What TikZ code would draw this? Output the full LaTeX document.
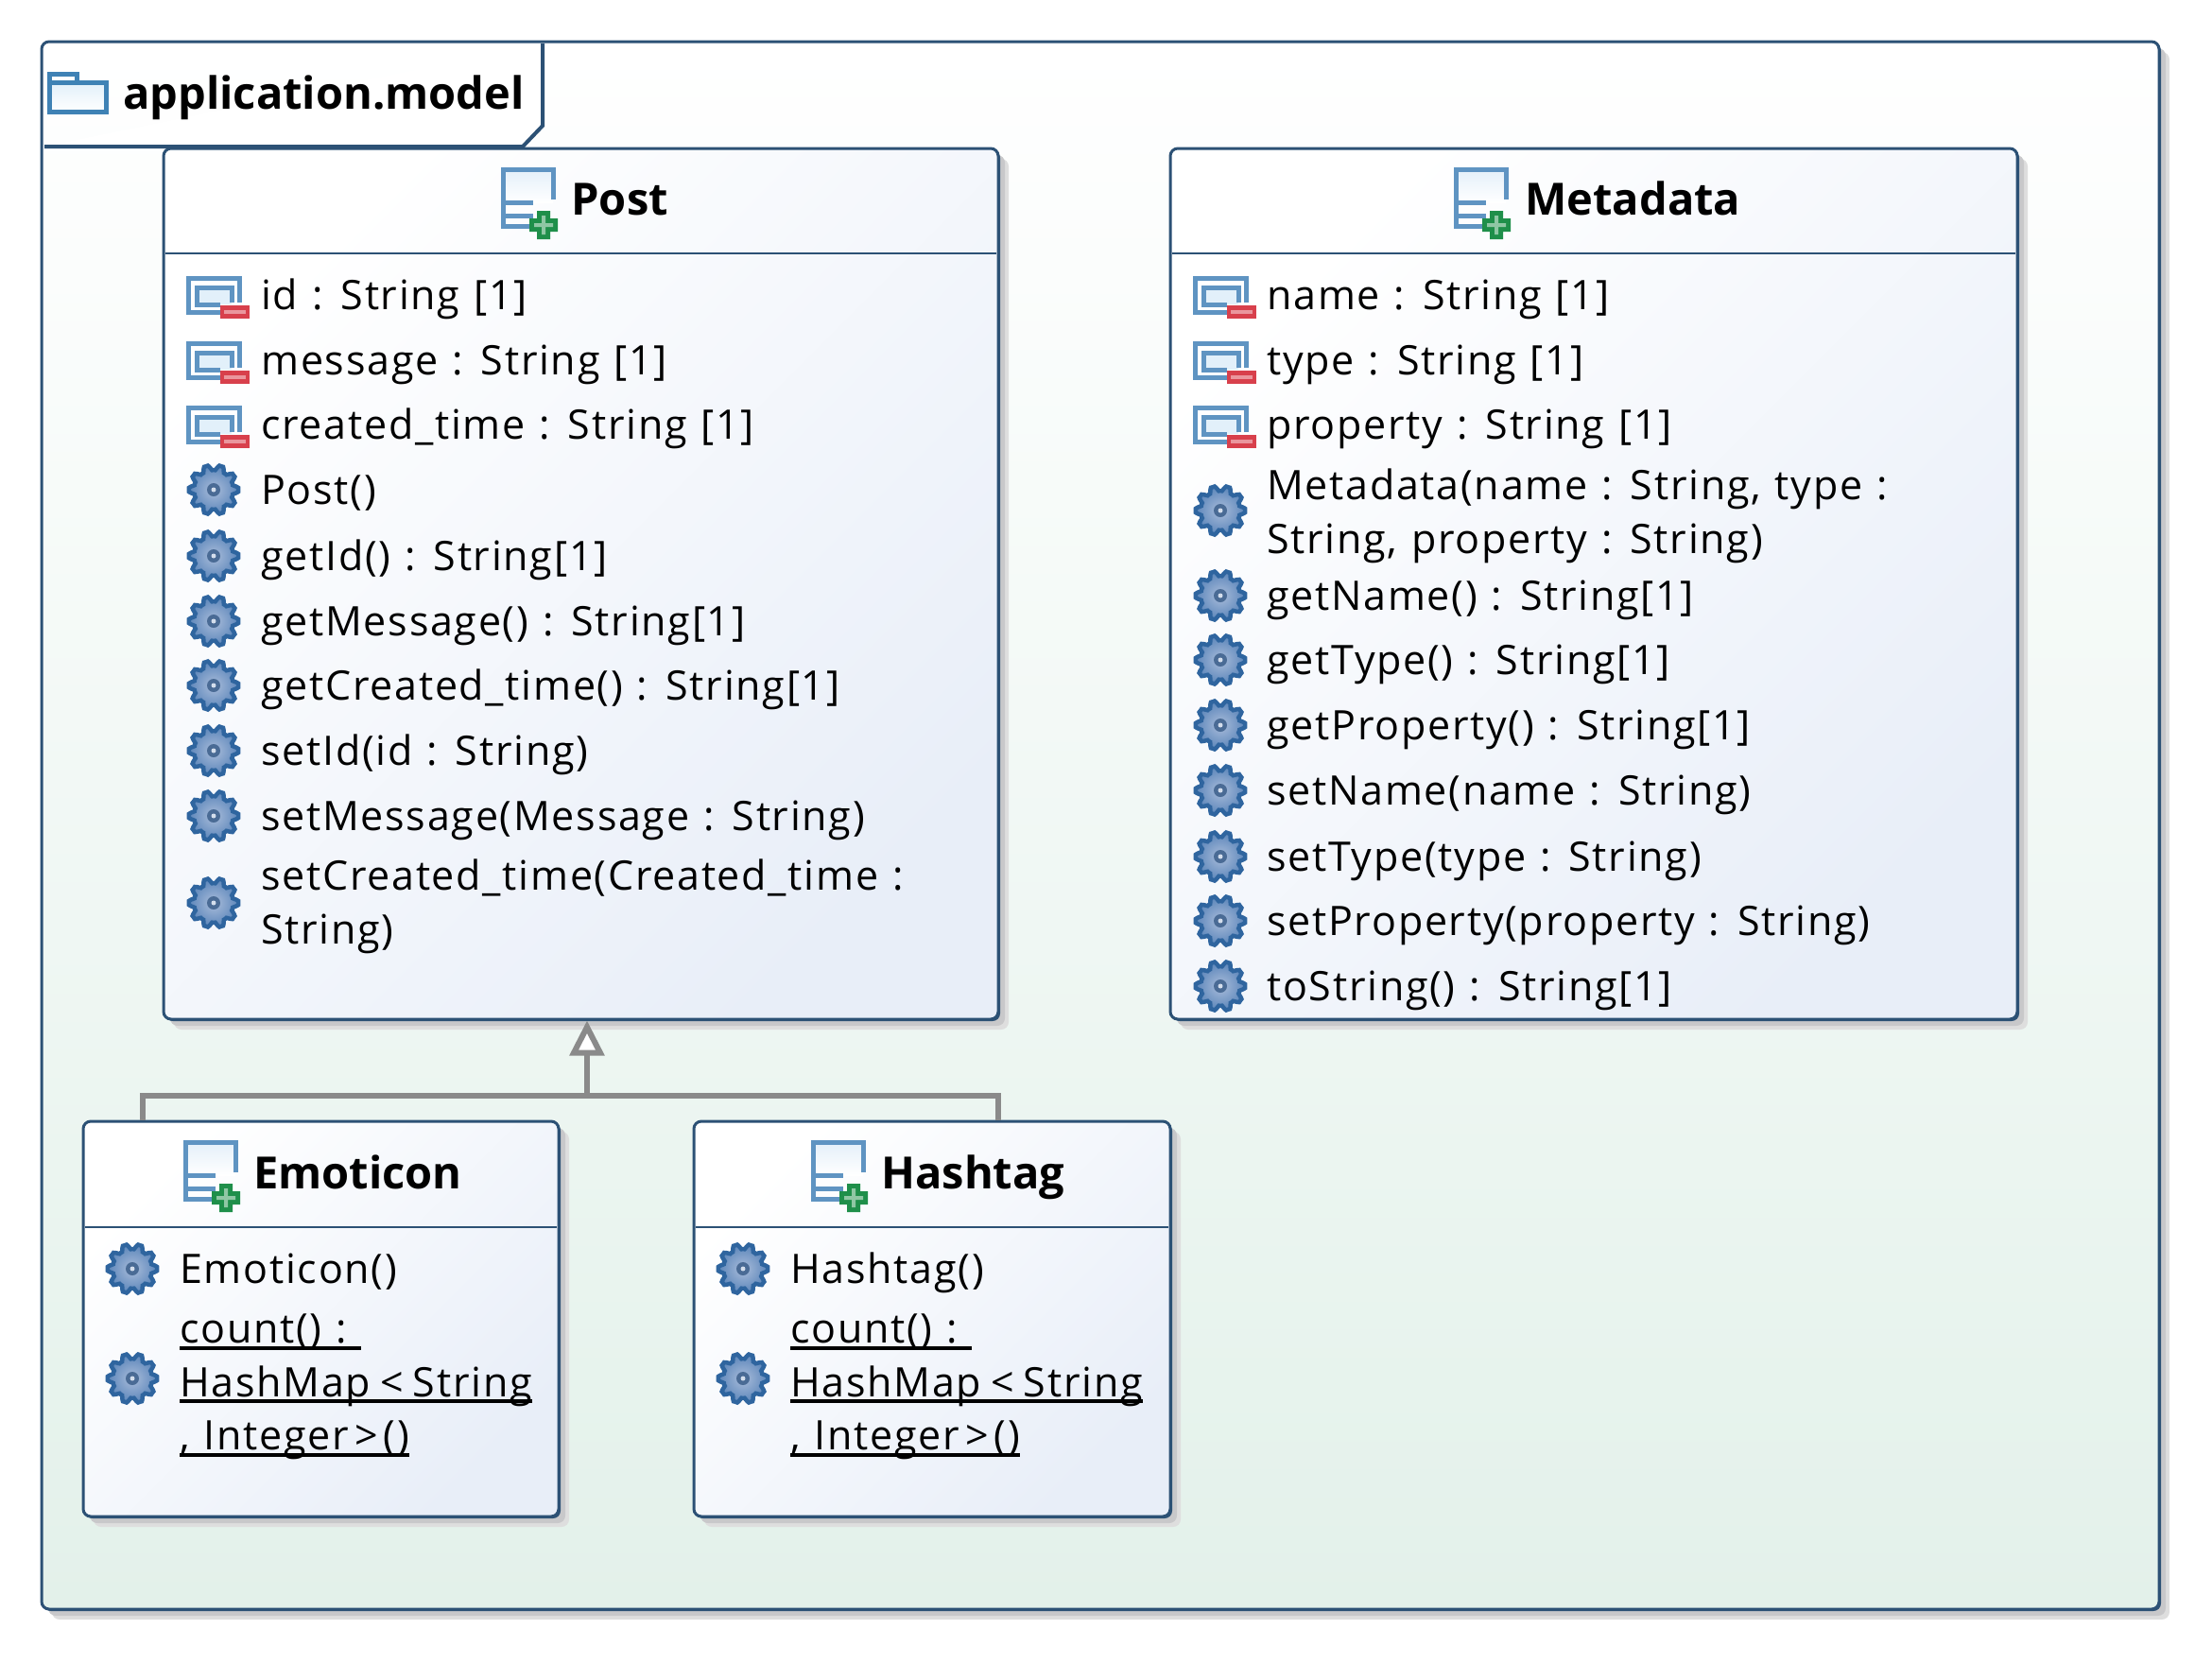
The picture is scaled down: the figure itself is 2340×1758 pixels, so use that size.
\documentclass[tikz,border=0pt]{standalone}
\usepackage{fontspec}
\setmainfont{Open Sans}[LetterSpace=4, WordSpace=1.15]
\newfontfamily\titlefam{Open Sans}
\usetikzlibrary{arrows.meta,fit,shadows}
\definecolor{lineblue}{HTML}{2C5175}
\definecolor{pkgbottom}{HTML}{E3F1EA}
\definecolor{classend}{HTML}{E8EEF8}
\definecolor{shadowin}{HTML}{C8C8CA}
\definecolor{shadowout}{HTML}{DEDEDE}
\definecolor{genline}{HTML}{8A8A8A}
\definecolor{iconblue}{HTML}{5F94C2}
\definecolor{iconpale}{HTML}{E2F0FA}
\definecolor{folderblue}{HTML}{3F82B5}
\definecolor{minusred}{HTML}{D8404C}
\definecolor{plusgreen}{HTML}{1F8F4A}
\definecolor{geardark}{HTML}{2F659F}
\definecolor{gearmid}{HTML}{5C86BA}
\definecolor{gearlight}{HTML}{A9BCDA}
\newcommand{\rowfont}{\fontsize{21.5}{28.3}\selectfont}
\newcommand{\titlefont}{\titlefam\fontsize{23.5}{28}\selectfont\bfseries}
\newcommand{\ulrow}[1]{\leavevmode\setbox0\hbox{#1}\rlap{\rule[-3.5pt]{\wd0}{2pt}}\box0}
\tikzset{
  boxshadows/.style={
    general shadow={fill=shadowout, shadow xshift=5.5pt, shadow yshift=-5.5pt},
    general shadow={fill=shadowin, shadow xshift=3.5pt, shadow yshift=-3.5pt},
    general shadow={fill=lineblue, shadow xshift=1pt, shadow yshift=-1pt}},
  classnode/.style={boxshadows, draw=lineblue, line width=1.5pt, rounded corners=4pt,
    top color=white, bottom color=classend, shading angle=45, inner sep=0pt},
  pkgnode/.style={boxshadows, draw=lineblue, line width=1.5pt, rounded corners=4pt,
    top color=white, bottom color=pkgbottom, inner sep=0pt},
  sepline/.style={lineblue, line width=1.25pt},
  gen/.style={genline, line width=3pt},
  rowtext/.style={font=\rowfont, anchor=west, inner sep=0pt, text height=20.5pt, text depth=5.5pt},
  wraptext/.style={font=\rowfont, anchor=west, inner sep=0pt, align=left},
  titletext/.style={font=\titlefont, anchor=base west, inner sep=0pt},
  attricon/.pic={
    \fill[iconpale] (-18,-8) rectangle (18,10);
    \draw[iconblue, line width=2.5pt] (26,8) -- (26,-18) -- (-28,-18) -- (-28,18) -- (6,18);
    \draw[iconblue, line width=2.5pt] (18,8) -- (18,-8) -- (-19,-8) -- (-19,10) -- (6,10);
    \fill[minusred] (6,11) rectangle (37,25);
    \fill[minusred!55!white] (10,16) rectangle (33,20);
  },
  gearicon/.pic={
    \shade[inner color=gearlight, outer color=gearmid, draw=geardark, line width=2.25pt]
      plot[smooth cycle, domain=0:355.5, samples=80]
      ({(23.5+3.2*(cos(10*\x)-0.2*cos(30*\x)))*cos(\x)}, {(23.5+3.2*(cos(10*\x)-0.2*cos(30*\x)))*sin(\x)});
    \fill[gearmid!80!black] (0,0) circle (7);
    \fill[gearlight!50!white] (0,0) circle (2.5);
  },
  classicon/.pic={
    \shade[top color=iconpale!70!classend, bottom color=white] (-26,-32) rectangle (27,3);
    \draw[iconblue, line width=2.5pt] (27,0) -- (27,-32) -- (-26,-32) -- (-26,28) -- (2,28);
    \draw[iconblue, line width=2.5pt] (-26,3) -- (6,3) (-26,17) -- (6,17);
    \fill[plusgreen] (10,12) rectangle (24,42) (2,20) rectangle (32,34);
    \fill[plusgreen!50!white] (15,17) rectangle (19,37) (7,25) rectangle (27,29);
  },
}
\begin{document}
\begin{tikzpicture}[x=0.5pt, y=-0.5pt]
  \useasboundingbox (0,0) rectangle (2340,1758);
  % package frame and its tab
  \node[pkgnode, fit={(44,44) (2284,1702)}] (pkg) {};
  \draw[lineblue, line width=2pt, fill=white] (574,46) -- (574,133) -- (553,155) -- (47,155);
  \shade[top color=iconpale, bottom color=white] (52,87) rectangle (112,118);
  \draw[folderblue, line width=2.5pt] (52,78) rectangle (81,87) (52,87) rectangle (112,118);
  \node[titletext] (pkglabel) at (130,115) {application.model};
  % classes
  \node[classnode, fit={(173,157) (1056,1078)}] (post) {};
  \node[classnode, fit={(1238,157) (2134,1078)}] (metadata) {};
  \node[classnode, fit={(88,1186) (591,1604)}] (emoticon) {};
  \node[classnode, fit={(734,1186) (1238,1604)}] (hashtag) {};
  \draw[sepline] (175,268) -- (1054,268);
  \draw[sepline] (1240,268) -- (2132,268);
  \draw[sepline] (90,1298) -- (589,1298);
  \draw[sepline] (736,1298) -- (1236,1298);
  % titles
  \pic at (558,211) {classicon};
  \node[titletext] (posttitle) at (604,227) {Post};
  \pic at (1566,211) {classicon};
  \node[titletext] (metadatatitle) at (1613,227) {Metadata};
  \pic at (222,1240) {classicon};
  \node[titletext] (emoticontitle) at (268,1257) {Emoticon};
  \pic at (886,1240) {classicon};
  \node[titletext] (hashtagtitle) at (932,1257) {Hashtag};
  % post rows
  \foreach \rowy/\rowtxt [count=\i] in {312/{id : String [1]}, 381/{message : String [1]}, 449/{created\_time : String [1]}} {
    \pic at (227,\rowy) {attricon};
    \node[rowtext] (postattr\i) at (276,\rowy) {\rowtxt};
  }
  \foreach \rowy/\rowtxt [count=\i] in {518/{Post()}, 588/{getId() : String[1]}, 657/{getMessage() : String[1]}, 725/{getCreated\_time() : String[1]}, 794/{setId(id : String)}, 863/{setMessage(Message : String)}} {
    \pic at (226,\rowy) {gearicon};
    \node[rowtext] (postop\i) at (276,\rowy) {\rowtxt};
  }
  \pic at (226,955) {gearicon};
  \node[wraptext] (postop7) at (276,959) {setCreated\_time(Created\_time :\\String)};
  % metadata rows
  \foreach \rowy/\rowtxt [count=\i] in {312/{name : String [1]}, 381/{type : String [1]}, 449/{property : String [1]}} {
    \pic at (1292,\rowy) {attricon};
    \node[rowtext] (metaattr\i) at (1340,\rowy) {\rowtxt};
  }
  \pic at (1291,540) {gearicon};
  \node[wraptext] (metaop1) at (1340,546) {Metadata(name : String, type :\\String, property : String)};
  \foreach \rowy/\rowtxt [count=\i from 2] in {630/{getName() : String[1]}, 698/{getType() : String[1]}, 767/{getProperty() : String[1]}, 836/{setName(name : String)}, 906/{setType(type : String)}, 974/{setProperty(property : String)}, 1043/{toString() : String[1]}} {
    \pic at (1291,\rowy) {gearicon};
    \node[rowtext] (metaop\i) at (1340,\rowy) {\rowtxt};
  }
  % emoticon and hashtag rows
  \pic at (140,1342) {gearicon};
  \node[rowtext] (emoticonop1) at (190,1342) {Emoticon()};
  \pic at (140,1458) {gearicon};
  \node[wraptext] (emoticonop2) at (190,1467) {\ulrow{count() :\ }\\\ulrow{HashMap\kern5pt<\kern5pt String}\\\ulrow{, Integer\kern3pt>\kern3pt()}};
  \pic at (786,1342) {gearicon};
  \node[rowtext] (hashtagop1) at (836,1342) {Hashtag()};
  \pic at (786,1458) {gearicon};
  \node[wraptext] (hashtagop2) at (836,1467) {\ulrow{count() :\ }\\\ulrow{HashMap\kern5pt<\kern5pt String}\\\ulrow{, Integer\kern3pt>\kern3pt()}};
  % generalization
  \coordinate (branchl) at (151,1159);
  \coordinate (joint) at (621,1159);
  \coordinate (branchr) at (1056,1159);
  \draw[gen] (branchl |- emoticon.north) -- (branchl) -- (branchr) -- (branchr |- hashtag.north);
  \draw[gen, -{Triangle[length=18.5pt, width=18pt, fill=white]}] (joint) -- (post.south -| joint);
\end{tikzpicture}
\end{document}
